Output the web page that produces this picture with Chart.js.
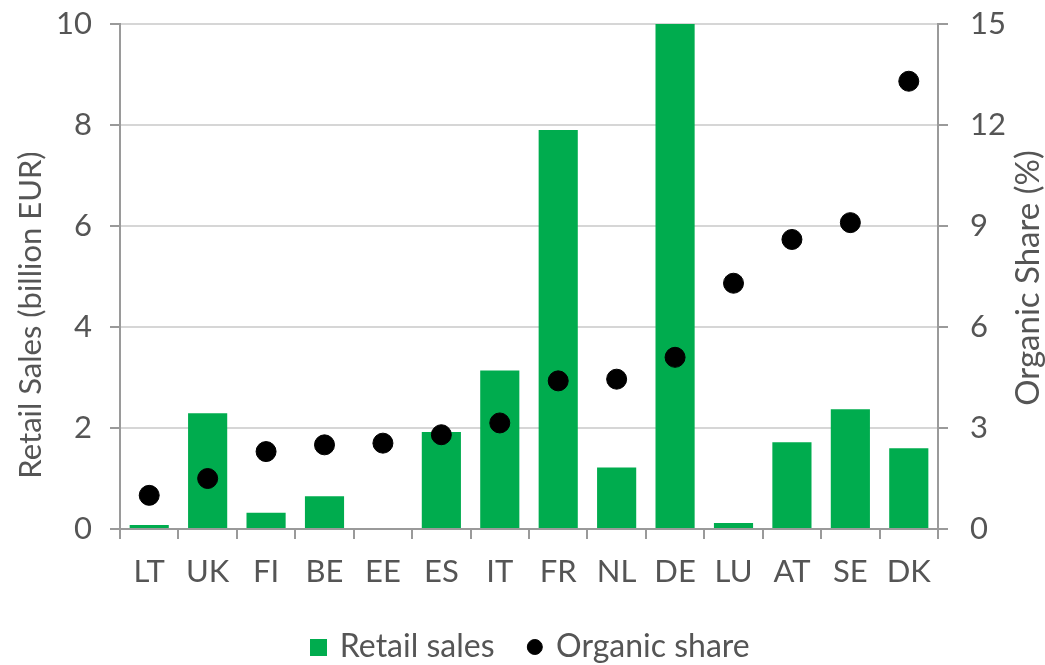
<!DOCTYPE html>
<html>
<head>
<meta charset="utf-8">
<script src="https://cdn.jsdelivr.net/npm/chart.js@4"></script>
<style>
  html, body { margin: 0; padding: 0; background: #fff; }
  #wrap { width: 1045px; height: 665px; position: relative; }
</style>
</head>
<body>
<div id="wrap"><canvas id="chart"></canvas></div>
<script>
// ── Organic retail sales by country ────────────────────────────────
const countries = ['LT', 'UK', 'FI', 'BE', 'EE', 'ES', 'IT', 'FR', 'NL', 'DE', 'LU', 'AT', 'SE', 'DK'];
const retailSales = [0.08, 2.29, 0.32, 0.65, 0, 1.92, 3.14, 7.9, 1.22, 10.0, 0.12, 1.72, 2.37, 1.6];   // billion EUR
const organicShare = [1.0, 1.5, 2.3, 2.5, 2.55, 2.8, 3.15, 4.4, 4.45, 5.1, 7.3, 8.6, 9.1, 13.3];     // %
const leftTicks = [0, 2, 4, 6, 8, 10];
const rightTicks = [0, 3, 6, 9, 12, 15];

const FONT = 'Lato, "Open Sans", sans-serif';
const TEXT = '#555555';
const GREEN = '#00ac4e';
const AXIS = '#9a9a9a';
const LEGEND_PAD = 35;

// legend swatch for the bars: a plain green square
const greenSwatch = document.createElement('canvas');
greenSwatch.width = 17; greenSwatch.height = 17;
greenSwatch.getContext('2d').fillStyle = GREEN;
greenSwatch.getContext('2d').fillRect(0, 0, 17, 17);

// axis titles, both reading upward
const axisTitles = {
  id: 'axisTitles',
  afterDraw(chart) {
    const { ctx } = chart;
    const put = (txt, x, y, size) => {
      ctx.save();
      ctx.fillStyle = TEXT;
      ctx.font = size + 'px ' + FONT;
      ctx.textAlign = 'center';
      ctx.textBaseline = 'middle';
      ctx.translate(x, y);
      ctx.rotate(-Math.PI / 2);
      ctx.fillText(txt, 0, 0);
      ctx.restore();
    };
    put('Retail Sales (billion EUR)', 31, 315, 31);
    put('Organic Share (%)', 1028, 278, 33);
  }
};

// keep the wide horizontal gap between legend items but a short legend box
const legendFit = {
  id: 'legendFit',
  beforeInit(chart) {
    const lg = chart.legend;
    if (!lg) return;
    const orig = lg.fit;
    lg.fit = function () {
      orig.call(this);
      this.height = LEGEND_PAD + 34;
    };
  }
};

// drop the extra room Chart.js keeps for half a tick label
const noLabelPad = s => { s.paddingTop = 0; s.paddingBottom = 0; };

new Chart(document.getElementById('chart'), {
  data: {
    labels: countries,
    datasets: [
      {
        type: 'line',
        label: 'Organic share',
        data: organicShare,
        yAxisID: 'y1',
        showLine: false,
        pointRadius: 10,
        pointHoverRadius: 10,
        pointBackgroundColor: '#000',
        pointBorderColor: '#000',
        pointStyle: 'circle',
        order: 0,
      },
      {
        type: 'bar',
        label: 'Retail sales',
        data: retailSales,
        yAxisID: 'y',
        backgroundColor: GREEN,
        borderWidth: 0,
        categoryPercentage: 1,
        barPercentage: 0.67,
        pointStyle: greenSwatch,
        order: 1,
      },
    ],
  },
  options: {
    responsive: true, maintainAspectRatio: false, animation: false,
    layout: { padding: { top: 24, left: 18, right: 0, bottom: 0 } },
    plugins: {
      tooltip: { enabled: false },
      legend: {
        position: 'bottom',
        reverse: true,
        labels: {
          usePointStyle: true,
          boxWidth: 10.6, boxHeight: 10.6,
          padding: LEGEND_PAD,
          color: TEXT,
          font: { family: FONT, size: 32 },
        },
      },
    },
    scales: {
      x: {
        offset: true,
        grid: { offset: true, drawOnChartArea: false, color: AXIS, tickLength: 10, lineWidth: 2 },
        border: { color: AXIS, width: 2 },
        ticks: { color: TEXT, font: { family: FONT, size: 31 }, padding: 14, maxRotation: 0 },
        afterFit: s => { s.height = 67; },
      },
      y: {
        position: 'left',
        min: 0, max: 10,
        afterBuildTicks: s => { s.ticks = leftTicks.map(v => ({ value: v })); },
        grid: { color: '#d6d6d6', lineWidth: 2, tickColor: AXIS, tickLength: 10 },
        border: { color: AXIS, width: 2 },
        ticks: { color: TEXT, font: { family: FONT, size: 31 }, padding: 18 },
        afterFit: s => { s.width = 102; noLabelPad(s); },
      },
      y1: {
        position: 'right',
        min: 0, max: 15,
        afterBuildTicks: s => { s.ticks = rightTicks.map(v => ({ value: v })); },
        grid: { drawOnChartArea: false, color: AXIS, lineWidth: 2, tickLength: 10 },
        border: { color: AXIS, width: 2 },
        ticks: { color: TEXT, font: { family: FONT, size: 31 }, padding: 22 },
        afterFit: s => { s.width = 107; noLabelPad(s); },
      },
    },
  },
  plugins: [axisTitles, legendFit],
});
</script>
</body>
</html>
